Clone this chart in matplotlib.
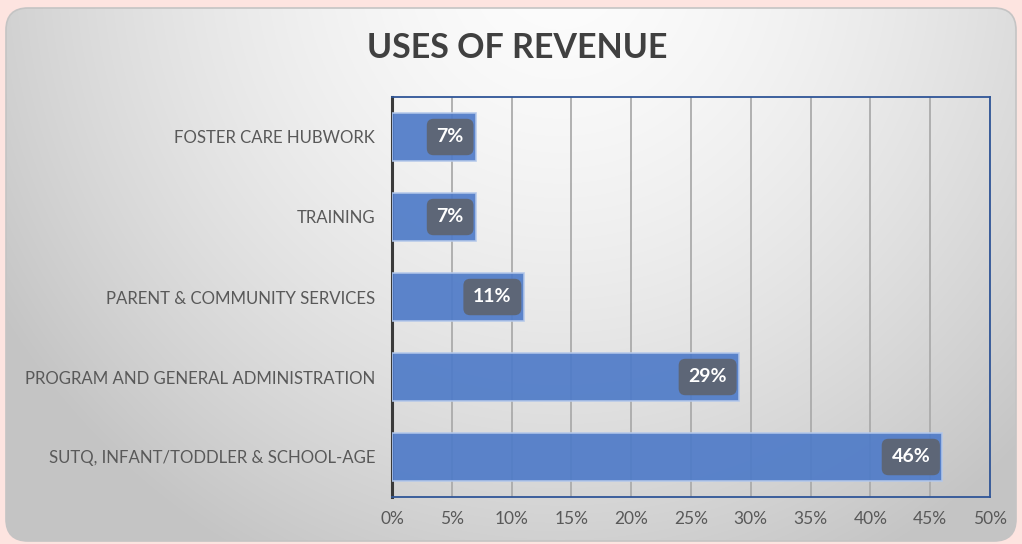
import numpy as np
import matplotlib
matplotlib.use("Agg")
from matplotlib import pyplot as plt
from matplotlib.patches import FancyBboxPatch

categories = ["SUTQ, INFANT/TODDLER & SCHOOL-AGE",
              "PROGRAM AND GENERAL ADMINISTRATION",
              "PARENT & COMMUNITY SERVICES",
              "TRAINING",
              "FOSTER CARE HUBWORK"]
values = [46, 29, 11, 7, 7]
xticks = [0, 5, 10, 15, 20, 25, 30, 35, 40, 45, 50]
title = "USES OF REVENUE"

W, H = 1022, 544
plt.rcParams['font.family'] = ['Lato', 'DejaVu Sans']

fig = plt.figure(figsize=(W / 100, H / 100), dpi=100, facecolor="#fde4e0")

# background panel with gradient
bg = fig.add_axes([0, 0, 1, 1])
bg.set_xlim(0, W)
bg.set_ylim(H, 0)
bg.axis("off")
yy, xx = np.mgrid[0:H, 0:W]
d = np.sqrt(((xx - 560) / 620.0) ** 2 + ((yy + 40) / 640.0) ** 2)
shade = np.clip(0.99 - 0.2 * d ** 1.6, 0.77, 0.99)
img = np.dstack([shade, shade, shade])
panel = FancyBboxPatch((6, 8), 1010, 533, boxstyle="round,pad=0,rounding_size=22",
                       facecolor="none", edgecolor="#c4c4c4", lw=1.2)
bg.add_patch(panel)
im = bg.imshow(img, extent=(0, W, H, 0), interpolation="bilinear", zorder=0)
im.set_clip_path(panel)

ax = fig.add_axes([392 / W, 47 / H, 598 / W, 400 / H])
ax.patch.set_alpha(0)
y = np.arange(len(categories))
ax.barh(y, values, height=0.59, color="#4f7bc8", alpha=0.92,
        edgecolor="#b4c8ea", linewidth=1.2, zorder=3)
ax.set_xlim(0, 50)
ax.set_ylim(-0.5, len(categories) - 0.5)
ax.set_xticks(xticks)
ax.set_xticklabels(["{}%".format(t) for t in xticks])
ax.set_yticks(y)
ax.set_yticklabels(categories)
ax.tick_params(axis="both", length=0, colors="#595959")
ax.tick_params(axis="x", pad=10, labelsize=12.5)
ax.tick_params(axis="y", pad=12, labelsize=12.1)
ax.grid(axis="x", color="#ababab", lw=1.3, zorder=1)
ax.set_axisbelow(True)
for s in ["top", "right", "bottom"]:
    ax.spines[s].set_color("#2f5597")
    ax.spines[s].set_linewidth(1.3)
ax.spines["left"].set_color("#3a3a3a")
ax.spines["left"].set_linewidth(2.2)

for yi, v in zip(y, values):
    ax.text(v - 1.0, yi, "{}%".format(v), ha="right", va="center",
            color="white", fontsize=14, fontweight="bold", zorder=5,
            bbox=dict(boxstyle="round,pad=0.5,rounding_size=0.35",
                      facecolor="#5d6677", edgecolor="none"))

fig.text(517 / W, 1 - 48 / H, title, ha="center", va="center",
         fontsize=24.5, fontweight="bold", color="#404040")

fig.savefig("out.png", dpi=100, facecolor=fig.get_facecolor())
